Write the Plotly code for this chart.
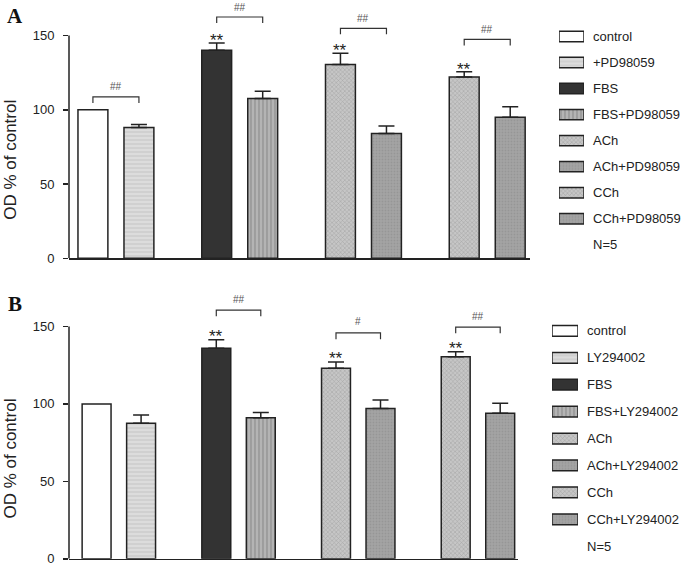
import plotly.graph_objects as go

# ---------------- data ----------------
categories_A = ["control", "+PD98059", "FBS", "FBS+PD98059", "ACh", "ACh+PD98059", "CCh", "CCh+PD98059"]
values_A = [100, 88, 140, 107.5, 130.5, 84, 122, 95]
errors_A = [0, 2, 5, 5, 7.5, 5, 3.5, 7]

categories_B = ["control", "LY294002", "FBS", "FBS+LY294002", "ACh", "ACh+LY294002", "CCh", "CCh+LY294002"]
values_B = [100, 87.5, 136, 91, 123, 97, 130.5, 94]
errors_B = [0, 5.4, 5.5, 3.5, 4, 5.5, 3.2, 6.5]

star_bars_A = [2, 4, 6]
star_bars_B = [2, 4, 6]
star_label = "**"

hash_groups_A = [0, 1, 2, 3]
hash_labels_A = ["##", "##", "##", "##"]
bracket_levels_A = [108.6, 162.4, 154.8, 147.3]

hash_groups_B = [1, 2, 3]
hash_labels_B = ["##", "#", "##"]
bracket_levels_B = [160.6, 145.8, 149.6]

y_ticks = [0, 50, 100, 150]
y_title = "OD % of control"
sample_note = "N=5"
panel_labels = ["A", "B"]

# ---------------- styles ----------------
W, H = 685, 577
FONT = "Liberation Sans, Arial, sans-serif"
INK = "#222222"
GROUP_GAP = 2.69
BAR_W = 0.65


def dx(px):
    return px / W


def dy(px):
    return 1 - px / H


STYLES = [
    dict(color="#ffffff", pattern=dict(shape="")),
    dict(color="#dcdcdc", pattern=dict(shape="-", fgcolor="#b4b4b4", bgcolor="#dcdcdc", size=4, solidity=0.3)),
    dict(color="#333333", pattern=dict(shape="")),
    dict(color="#b0b0b0", pattern=dict(shape="|", fgcolor="#747474", bgcolor="#b4b4b4", size=4, solidity=0.35)),
    dict(color="#bdbdbd", pattern=dict(shape="x", fgcolor="#7c7c7c", bgcolor="#c6c6c6", size=3, solidity=0.3)),
    dict(color="#a0a0a0", pattern=dict(shape=".", fgcolor="#878787", bgcolor="#a4a4a4", size=3, solidity=0.3)),
    dict(color="#bdbdbd", pattern=dict(shape="x", fgcolor="#7c7c7c", bgcolor="#c6c6c6", size=3, solidity=0.3)),
    dict(color="#a0a0a0", pattern=dict(shape=".", fgcolor="#878787", bgcolor="#a4a4a4", size=3, solidity=0.3)),
]


def xpos(i):
    return (i // 2) * GROUP_GAP + (i % 2)


fig = go.Figure()
annotations = []
shapes = []

panels = [
    dict(cats=categories_A, vals=values_A, errs=errors_A, stars=star_bars_A,
         hg=hash_groups_A, hl=hash_labels_A, bl=bracket_levels_A,
         xa="x", ya="y", xa3="x3", ya3="y3", star_shift=-9, hash_shift=10),
    dict(cats=categories_B, vals=values_B, errs=errors_B, stars=star_bars_B,
         hg=hash_groups_B, hl=hash_labels_B, bl=bracket_levels_B,
         xa="x2", ya="y2", xa3="x4", ya3="y4", star_shift=-8, hash_shift=11),
]

for p in panels:
    xs = [xpos(i) for i in range(len(p["vals"]))]
    for i, (c, v, e) in enumerate(zip(p["cats"], p["vals"], p["errs"])):
        st = STYLES[i]
        fig.add_trace(go.Bar(
            x=[xs[i]], y=[v], width=BAR_W, xaxis=p["xa"], yaxis=p["ya"], name=c,
            marker=dict(color=st["color"], pattern=st["pattern"], line=dict(color=INK, width=1.5)),
            error_y=dict(type="data", array=[e], arrayminus=[0], symmetric=False,
                         thickness=1.5, width=8, color=INK, visible=e > 0),
            showlegend=False, hoverinfo="skip",
        ))
        # legend swatch drawn on a hidden axis
        fig.add_trace(go.Bar(
            x=[1], y=[i], base=0, orientation="h", width=0.4, xaxis=p["xa3"], yaxis=p["ya3"],
            marker=dict(color=st["color"], pattern=st["pattern"], line=dict(color=INK, width=1.5)),
            showlegend=False, hoverinfo="skip",
        ))
        annotations.append(dict(xref=p["xa3"], yref=p["ya3"], x=1, y=i, text=c, showarrow=False,
                                xanchor="left", yanchor="middle", xshift=7,
                                font=dict(family=FONT, size=13, color=INK)))
    annotations.append(dict(xref=p["xa3"], yref=p["ya3"], x=1, y=len(p["vals"]), text=sample_note,
                            showarrow=False, xanchor="left", yanchor="middle", xshift=7,
                            font=dict(family=FONT, size=13, color=INK)))
    # stars
    for i in p["stars"]:
        annotations.append(dict(xref=p["xa"], yref=p["ya"], x=xs[i], y=p["vals"][i] + p["errs"][i],
                                text=star_label, showarrow=False, yanchor="bottom", yshift=p["star_shift"],
                                font=dict(family=FONT, size=17, color=INK)))
    # brackets
    for g, lab, lev in zip(p["hg"], p["hl"], p["bl"]):
        x0, x1 = xpos(2 * g), xpos(2 * g + 1)
        shapes.append(dict(type="path", xref=p["xa"], yref=p["ya"],
                           path=f"M {x0},{lev - 4} L {x0},{lev} L {x1},{lev} L {x1},{lev - 4}",
                           line=dict(color="#333333", width=1.2)))
        annotations.append(dict(xref=p["xa"], yref=p["ya"], x=(x0 + x1) / 2, y=lev, text=lab,
                                showarrow=False, yanchor="middle", yshift=p["hash_shift"],
                                font=dict(family=FONT, size=10, color="#555555")))
    # y axis line from 0 to 150
    shapes.append(dict(type="line", xref=f"{p['xa']} domain", yref=p["ya"], x0=0, x1=0,
                       y0=0, y1=y_ticks[-1], line=dict(color=INK, width=1.5)))

# panel letters and y titles
for lab, ypx in zip(panel_labels, [16, 308]):
    annotations.append(dict(xref="paper", yref="paper", x=dx(15), y=dy(ypx), text=f"<b>{lab}</b>",
                            showarrow=False, xanchor="center", yanchor="middle",
                            font=dict(family="Liberation Serif, Times New Roman, serif", size=21, color="#111111")))
for ypx in [162, 465]:
    annotations.append(dict(xref="paper", yref="paper", x=dx(11), y=dy(ypx), text=y_title,
                            showarrow=False, textangle=-90, xanchor="center", yanchor="middle",
                            font=dict(family=FONT, size=17, color=INK)))

xcommon = dict(showline=True, linecolor=INK, linewidth=1.5, showticklabels=False, ticks="",
               showgrid=False, zeroline=False, fixedrange=True)
ycommon = dict(showline=False, ticks="outside", ticklen=5, tickwidth=1.5, tickcolor=INK,
               tickvals=y_ticks, showgrid=False, zeroline=False, ticklabelstandoff=6,
               tickfont=dict(family=FONT, size=13, color=INK), fixedrange=True)
hidden = dict(visible=False, fixedrange=True)

fig.update_layout(
    width=W, height=H, margin=dict(l=0, r=0, t=0, b=0),
    paper_bgcolor="white", plot_bgcolor="rgba(0,0,0,0)",
    showlegend=False, barmode="overlay", hovermode=False,
    font=dict(family=FONT, color=INK),
    xaxis=dict(domain=[dx(69), dx(530)], range=[-0.52, 9.5], anchor="y", **xcommon),
    yaxis=dict(domain=[dy(262), dy(2)], range=[0, 260 / 1.507], anchor="x", **ycommon),
    xaxis2=dict(domain=[dx(69), dx(518)], range=[-0.62, 9.47], anchor="y2", **xcommon),
    yaxis2=dict(domain=[dy(566.7), dy(290)], range=[0, 276.7 / 1.571], anchor="x2", **ycommon),
    xaxis3=dict(domain=[dx(559), dx(584)], range=[0, 1], anchor="y3", **hidden),
    yaxis3=dict(domain=[dy(37 + 26.4 * 8.5), dy(37 - 26.4 * 0.5)], range=[8.5, -0.5], anchor="x3", **hidden),
    xaxis4=dict(domain=[dx(552), dx(578)], range=[0, 1], anchor="y4", **hidden),
    yaxis4=dict(domain=[dy(335.5 + 27.3 * 8.5), dy(335.5 - 27.3 * 0.5)], range=[8.5, -0.5], anchor="x4", **hidden),
    annotations=annotations,
    shapes=shapes,
)

# remove the browser's default 8px body margin so the figure sits at the page origin
fig.write_html("out.html", config=dict(displayModeBar=False, staticPlot=True),
               post_script="document.body.style.margin='0';document.body.style.overflow='hidden';")
